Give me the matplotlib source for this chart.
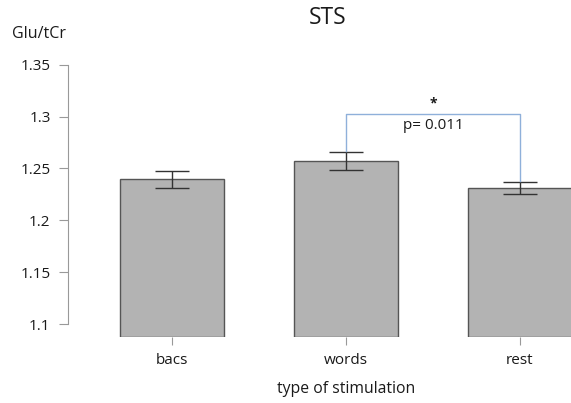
import matplotlib
matplotlib.use("Agg")
import matplotlib.pyplot as plt

categories = ["bacs", "words", "rest"]
means = [1.2394, 1.2569, 1.2308]
errors = [0.0080, 0.0088, 0.0059]
p_text = "p= 0.011"
star = "*"

plt.rcParams['font.family'] = ['Open Sans', 'DejaVu Sans']
tc = "#1a1a1a"

fig = plt.figure(figsize=(5.71, 4.03), dpi=100)
ax = fig.add_axes([68/571, (403-337.3)/403, 1-68/571, 272.6/403])

x = list(range(len(categories)))
ybase = 1.0872
ax.bar(x, [m - ybase for m in means], bottom=ybase, width=0.6,
       color="#b3b3b3", edgecolor="#555555", linewidth=1.0, zorder=2)
ax.errorbar(x, means, yerr=errors, fmt="none", ecolor="#333333",
            elinewidth=1.0, capsize=12, capthick=1.0, zorder=3)

ax.set_xlim(-0.598, 2.293)
ax.set_ylim(ybase, 1.35)
ax.set_yticks([1.1, 1.15, 1.2, 1.25, 1.3, 1.35])
ax.set_yticklabels(["1.1", "1.15", "1.2", "1.25", "1.3", "1.35"])
ax.set_xticks(x)
ax.set_xticklabels(categories)

for s in ["top", "right", "bottom"]:
    ax.spines[s].set_visible(False)
ax.spines["left"].set_bounds(1.1, 1.35)
ax.spines["left"].set_color("#999999")
ax.tick_params(axis="y", length=6.5, color="#999999", labelsize=11,
               pad=6, labelcolor=tc)
ax.tick_params(axis="x", length=6, color="#999999", labelsize=11,
               pad=5, labelcolor=tc)

fig.text(346/571, 1 - 389/403, "type of stimulation", ha="center",
         va="center", fontsize=11.3, color=tc)

# significance bracket
yb = 1.3026
ax.plot([1, 1, 2, 2], [means[1] + errors[1] + 0.001, yb, yb, means[2] + errors[2] + 0.001],
        color="#8fb0da", linewidth=1.0, clip_on=False, zorder=4)
ax.text(1.5, yb + 0.0035, star, ha="center", va="bottom", fontsize=10,
        fontweight="bold", color=tc)
ax.text(1.5, yb - 0.004, p_text, ha="center", va="top", fontsize=11,
        color=tc)

fig.text(328/571, 1 - 18/403, "STS", ha="center", va="center", fontsize=16.5,
         color=tc)
fig.text(12/571, 1 - 34/403, "Glu/tCr", ha="left", va="center", fontsize=11.5,
         color=tc)

fig.savefig("out.png", dpi=100)
